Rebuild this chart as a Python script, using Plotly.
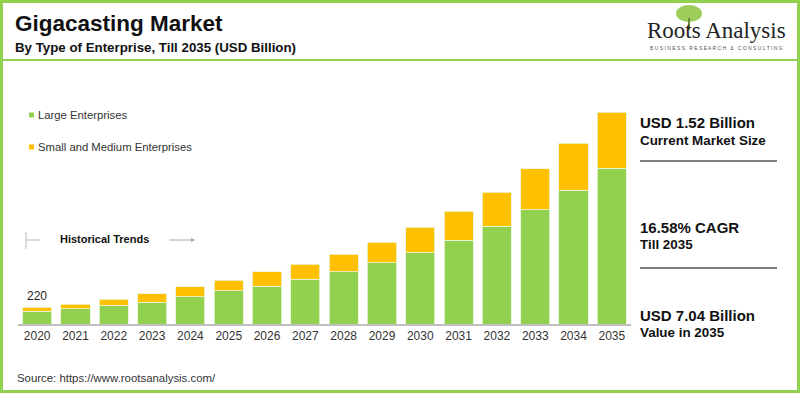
import plotly.graph_objects as go

years = [str(y) for y in range(2020, 2036)]
large = [0.43, 0.50, 0.63, 0.73, 0.90, 1.10, 1.26, 1.49, 1.73, 2.03, 2.36, 2.79, 3.25, 3.79, 4.45, 5.18]
sme = [0.13, 0.16, 0.20, 0.27, 0.33, 0.36, 0.47, 0.50, 0.59, 0.69, 0.86, 0.96, 1.13, 1.36, 1.56, 1.86]
series_names = ["Large Enterprises", "Small and Medium Enterprises"]
first_label = "220"

GREEN = "#92D050"
YELLOW = "#FFC000"
FONT = "Liberation Sans, Arial, sans-serif"

W, H = 800, 393
def px(x):
    return x / W
def py(y):
    return 1 - y / H

fig = go.Figure()
fig.add_bar(x=years, y=large, name=series_names[0], marker=dict(color=GREEN, line=dict(color="#E8F5D8", width=0.8)))
fig.add_bar(x=years, y=sme, name=series_names[1], marker=dict(color=YELLOW, line=dict(color="#E8F5D8", width=0.8)))

fig.update_layout(
    width=W, height=H, barmode="stack", bargap=0.24,
    showlegend=False,
    paper_bgcolor="white", plot_bgcolor="white",
    margin=dict(l=0, r=0, t=0, b=0),
    font=dict(family=FONT, color="#222"),
    xaxis=dict(type="category", domain=[px(18), px(631)], range=[-0.5, 15.5], showgrid=False,
               showline=True, linecolor="#BFBFBF", linewidth=1.5, ticks="",
               tickfont=dict(size=12, color="#333", family=FONT), fixedrange=True),
    yaxis=dict(domain=[py(324), py(100)], range=[0, 7.44], visible=False, fixedrange=True),
)

shapes = []
ann = []
# frame
shapes.append(dict(type="rect", xref="paper", yref="paper", x0=px(1.5), x1=px(798.5), y0=py(391.5), y1=py(1.5),
                   line=dict(color=GREEN, width=3)))
shapes.append(dict(type="line", xref="paper", yref="paper", x0=px(2), x1=px(798), y0=py(60), y1=py(60),
                   line=dict(color=GREEN, width=2)))

# title
ann.append(dict(text="<b>Gigacasting Market</b>", x=px(13), y=py(24), xref="paper", yref="paper",
                xanchor="left", yanchor="middle", showarrow=False, font=dict(size=22.5, color="#111", family=FONT)))
ann.append(dict(text="<b>By Type of Enterprise, Till 2035 (USD Billion)</b>", x=px(13), y=py(47), xref="paper", yref="paper",
                xanchor="left", yanchor="middle", showarrow=False, font=dict(size=13.3, color="#111", family=FONT)))

# logo
shapes.append(dict(type="circle", xref="paper", yref="paper", x0=px(676), x1=px(702), y0=py(22), y1=py(5),
                   fillcolor="#8CC63F", line=dict(width=0), opacity=0.85))
shapes.append(dict(type="line", xref="paper", yref="paper", x0=px(689), x1=px(689), y0=py(30), y1=py(18),
                   line=dict(color="#6B8E3A", width=2)))
ann.append(dict(text="Roots Analysis", x=px(716), y=py(30), xref="paper", yref="paper",
                xanchor="center", yanchor="middle", showarrow=False,
                font=dict(size=23, color="#222", family="Liberation Serif, DejaVu Serif, serif")))
ann.append(dict(text="B U S I N E S S   R E S E A R C H   &   C O N S U L T I N G", x=px(716), y=py(48), xref="paper", yref="paper",
                xanchor="center", yanchor="middle", showarrow=False, font=dict(size=5, color="#555", family=FONT)))

# legend
legend_items = [(series_names[0], GREEN, 115), (series_names[1], YELLOW, 147)]
for name, col, y in legend_items:
    shapes.append(dict(type="rect", xref="paper", yref="paper", x0=px(29), x1=px(34), y0=py(y + 2.5), y1=py(y - 2.5),
                       fillcolor=col, line=dict(width=0)))
    ann.append(dict(text=name, x=px(36), y=py(y), xref="paper", yref="paper", xanchor="left", yanchor="middle",
                    showarrow=False, font=dict(size=11.3, color="#333", family=FONT)))

# historical trends
shapes.append(dict(type="line", xref="paper", yref="paper", x0=px(26), x1=px(26), y0=py(249), y1=py(232),
                   line=dict(color="#BBBBBB", width=1)))
shapes.append(dict(type="line", xref="paper", yref="paper", x0=px(26), x1=px(40), y0=py(240), y1=py(240),
                   line=dict(color="#BBBBBB", width=1)))
ann.append(dict(text="<b>Historical Trends</b>", x=px(58), y=py(239), xref="paper", yref="paper", xanchor="left",
                yanchor="middle", showarrow=False, font=dict(size=11, color="#111", family=FONT)))
ann.append(dict(x=px(195), y=py(240), ax=-27, ay=0, xref="paper", yref="paper", axref="pixel", ayref="pixel",
                text="", showarrow=True, arrowhead=2, arrowsize=0.8, arrowwidth=1, arrowcolor="#AAAAAA"))

# first bar label
ann.append(dict(text=first_label, x=0, y=large[0] + sme[0], xref="x", yref="y", yanchor="bottom",
                yshift=2, showarrow=False, font=dict(size=12, color="#222", family=FONT)))

# right panel
panel = [("USD 1.52 Billion", "Current Market Size", 123, 140),
         ("16.58% CAGR", "Till 2035", 227, 244),
         ("USD 7.04 Billion", "Value in 2035", 315, 332)]
for big, small, y1, y2 in panel:
    ann.append(dict(text=f"<b>{big}</b>", x=px(638), y=py(y1), xref="paper", yref="paper", xanchor="left",
                    yanchor="middle", showarrow=False, font=dict(size=15, color="#111", family=FONT)))
    ann.append(dict(text=f"<b>{small}</b>", x=px(638), y=py(y2), xref="paper", yref="paper", xanchor="left",
                    yanchor="middle", showarrow=False, font=dict(size=13.4, color="#111", family=FONT)))
for y in (161, 268):
    shapes.append(dict(type="line", xref="paper", yref="paper", x0=px(640), x1=px(777), y0=py(y), y1=py(y),
                       line=dict(color="#808080", width=2)))

# source
ann.append(dict(text="Source: https://www.rootsanalysis.com/", x=px(15), y=py(378), xref="paper", yref="paper",
                xanchor="left", yanchor="middle", showarrow=False, font=dict(size=11.4, color="#333", family=FONT)))

fig.update_layout(shapes=shapes, annotations=ann)
fig.write_html("out.html", config={"displayModeBar": False},
               post_script="document.body.style.margin='0';document.body.style.padding='0';")
